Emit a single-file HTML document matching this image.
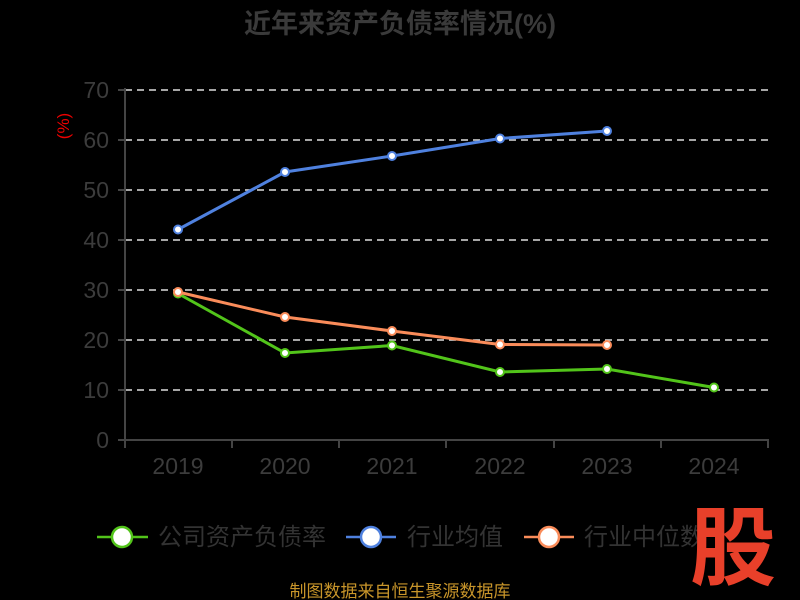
<!DOCTYPE html>
<html><head><meta charset="utf-8"><style>
html,body{margin:0;padding:0;background:#000;}
svg{display:block;font-family:"Liberation Sans","Noto Sans CJK SC",sans-serif;}
</style></head><body>
<svg width="800" height="600" xmlns="http://www.w3.org/2000/svg">
<rect width="800" height="600" fill="#000"/>
<text x="400" y="33" text-anchor="middle" font-size="27" font-weight="bold" fill="#3a3a3a">近年来资产负债率情况(%)</text>
<g stroke="#ddd" stroke-width="1.5" stroke-dasharray="7,5">
<line x1="125" y1="90" x2="768" y2="90"/><line x1="125" y1="140" x2="768" y2="140"/>
<line x1="125" y1="190" x2="768" y2="190"/><line x1="125" y1="240" x2="768" y2="240"/>
<line x1="125" y1="290" x2="768" y2="290"/><line x1="125" y1="340" x2="768" y2="340"/>
<line x1="125" y1="390" x2="768" y2="390"/>
</g>
<g stroke="#444" stroke-width="2">
<line x1="125" y1="88" x2="125" y2="441"/><line x1="118" y1="90" x2="125" y2="90"/>
<line x1="118" y1="140" x2="125" y2="140"/><line x1="118" y1="190" x2="125" y2="190"/>
<line x1="118" y1="240" x2="125" y2="240"/><line x1="118" y1="290" x2="125" y2="290"/>
<line x1="118" y1="340" x2="125" y2="340"/><line x1="118" y1="390" x2="125" y2="390"/>
<line x1="118" y1="440" x2="125" y2="440"/>
<line x1="125" y1="440" x2="769" y2="440"/>
<line x1="125" y1="440" x2="125" y2="448"/><line x1="232" y1="440" x2="232" y2="448"/>
<line x1="339" y1="440" x2="339" y2="448"/><line x1="446" y1="440" x2="446" y2="448"/>
<line x1="554" y1="440" x2="554" y2="448"/><line x1="661" y1="440" x2="661" y2="448"/>
<line x1="768" y1="440" x2="768" y2="448"/>
</g>
<g font-size="23" fill="#3c3c3c" text-anchor="end">
<text x="109" y="98">70</text><text x="109" y="148">60</text><text x="109" y="198">50</text>
<text x="109" y="248">40</text><text x="109" y="298">30</text><text x="109" y="348">20</text>
<text x="109" y="398">10</text><text x="109" y="448">0</text>
</g>
<g font-size="23" fill="#3c3c3c" text-anchor="middle">
<text x="178" y="474">2019</text><text x="285" y="474">2020</text><text x="392" y="474">2021</text>
<text x="500" y="474">2022</text><text x="607" y="474">2023</text><text x="714" y="474">2024</text>
</g>
<text transform="translate(69,126) rotate(-90)" text-anchor="middle" font-size="17" fill="#e00">(%)</text>
<g fill="#fff" stroke-width="2">
<polyline fill="none" stroke="#4f81df" stroke-width="3" points="178,229.5 285,172 392,156 500,138.5 607,131"/>
<g stroke="#4f81df"><circle cx="178" cy="229.5" r="4"/><circle cx="285" cy="172" r="4"/><circle cx="392" cy="156" r="4"/><circle cx="500" cy="138.5" r="4"/><circle cx="607" cy="131" r="4"/></g>
<polyline fill="none" stroke="#52c41a" stroke-width="3" points="178,293.5 285,353 392,345.5 500,372 607,369 714,387.5"/>
<g stroke="#52c41a"><circle cx="178" cy="293.5" r="4"/><circle cx="285" cy="353" r="4"/><circle cx="392" cy="345.5" r="4"/><circle cx="500" cy="372" r="4"/><circle cx="607" cy="369" r="4"/><circle cx="714" cy="387.5" r="4"/></g>
<polyline fill="none" stroke="#fa8c5a" stroke-width="3" points="178,292 285,317 392,331 500,344.5 607,345"/>
<g stroke="#fa8c5a"><circle cx="178" cy="292" r="4"/><circle cx="285" cy="317" r="4"/><circle cx="392" cy="331" r="4"/><circle cx="500" cy="344.5" r="4"/><circle cx="607" cy="345" r="4"/></g>
</g>
<g stroke-width="2.5" fill="#fff">
<line x1="97" y1="537" x2="148" y2="537" stroke="#52c41a"/><circle cx="122" cy="537" r="10" stroke="#52c41a"/>
<line x1="346" y1="537" x2="396" y2="537" stroke="#4f81df"/><circle cx="371" cy="537" r="10" stroke="#4f81df"/>
<line x1="524" y1="537" x2="574" y2="537" stroke="#fa8c5a"/><circle cx="549" cy="537" r="10" stroke="#fa8c5a"/>
</g>
<g font-size="24" fill="#333">
<text x="158" y="545">公司资产负债率</text><text x="407" y="545">行业均值</text><text x="584" y="545">行业中位数</text>
</g>
<text x="733" y="578" text-anchor="middle" font-size="86" font-weight="bold" fill="#e8402a">股</text>
<text x="400" y="597" text-anchor="middle" font-size="17" fill="#c8952a">制图数据来自恒生聚源数据库</text>
</svg>
</body></html>
